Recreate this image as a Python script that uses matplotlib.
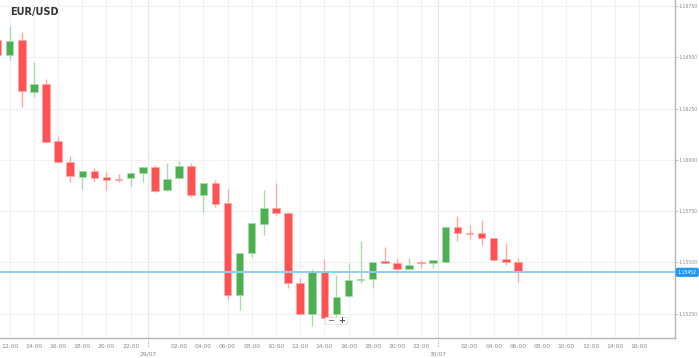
import matplotlib
matplotlib.use("Agg")
import matplotlib.pyplot as plt
import pandas as pd
import numpy as np

# ---- data ----
times = pd.date_range("2020-07-28 11:00", "2020-07-30 06:00", freq="h")
opens = [1.16582, 1.16513, 1.16582, 1.16332, 1.16372, 1.16090, 1.15991, 1.15918, 1.15945, 1.15917,
         1.15906, 1.15911, 1.15936,
         1.15965, 1.15851, 1.15914, 1.15970, 1.15827, 1.15887, 1.15790, 1.15342, 1.15544, 1.15689,
         1.15765, 1.15741, 1.15400, 1.15249, 1.15452, 1.15250, 1.15337, 1.15413, 1.15418, 1.15507,
         1.15499, 1.15470, 1.15504, 1.15499,
         1.15504, 1.15673, 1.15646, 1.15643, 1.15618, 1.15515, 1.15504]
highs = [1.16595, 1.16650, 1.16621, 1.16475, 1.16392, 1.16109, 1.16017, 1.15948, 1.15961, 1.15943,
         1.15930, 1.15940, 1.15967,
         1.15977, 1.15985, 1.15993, 1.15985, 1.15888, 1.15902, 1.15859, 1.15548, 1.15691, 1.15851,
         1.15886, 1.15746, 1.15423, 1.15468, 1.15515, 1.15439, 1.15496, 1.15607, 1.15504, 1.15577,
         1.15523, 1.15520, 1.15512, 1.15511,
         1.15676, 1.15727, 1.15681, 1.15705, 1.15618, 1.15596, 1.15520]
lows = [1.16503, 1.16485, 1.16257, 1.16306, 1.16085, 1.15988, 1.15891, 1.15856, 1.15891, 1.15851,
        1.15891, 1.15875, 1.15891,
        1.15843, 1.15849, 1.15911, 1.15819, 1.15748, 1.15770, 1.15318, 1.15270, 1.15528, 1.15633,
        1.15730, 1.15378, 1.15249, 1.15189, 1.15229, 1.15229, 1.15334, 1.15399, 1.15375, 1.15499,
        1.15447, 1.15470, 1.15471, 1.15471,
        1.15504, 1.15604, 1.15612, 1.15584, 1.15510, 1.15487, 1.15404]
closes = [1.16513, 1.16577, 1.16335, 1.16372, 1.16088, 1.15988, 1.15920, 1.15948, 1.15914, 1.15901,
          1.15902, 1.15936, 1.15965,
          1.15849, 1.15909, 1.15970, 1.15830, 1.15887, 1.15784, 1.15342, 1.15548, 1.15691, 1.15765,
          1.15739, 1.15402, 1.15249, 1.15455, 1.15229, 1.15334, 1.15415, 1.15418, 1.15504, 1.15499,
          1.15468, 1.15489, 1.15497, 1.15510,
          1.15672, 1.15642, 1.15640, 1.15617, 1.15510, 1.15501, 1.15452]
y_ticks = [1.15250, 1.15500, 1.15750, 1.16000, 1.16250, 1.16500, 1.16750]
day_labels = ["29/07", "30/07"]
title = "EUR/USD"

# ---- style ----
GREEN = "#4caf50"
RED = "#ff5252"
GRID = "#f1f1f1"
TXT = "#8a8a8a"

base = pd.Timestamp("2020-07-28 00:00")
x = np.array([(t - base) / pd.Timedelta(hours=1) for t in times])
o = np.array(opens); h = np.array(highs); l = np.array(lows); c = np.array(closes)
up = c >= o
colors = np.where(up, GREEN, RED)

fig = plt.figure(figsize=(6.99, 3.58), dpi=100)
ax = fig.add_axes([0, 20 / 358, 675 / 699, 338 / 358])

ax.set_xlim(11.2, 66.98)
ax.set_ylim(1.15132, 1.16779)

# grid
hour_ticks = [t for t in range(12, 66, 2) if t % 24 != 0]
for t in hour_ticks:
    ax.axvline(t, color=GRID, lw=0.8, zorder=0)
day_pos = [23.43, 47.43]
for d in day_pos:
    ax.axvline(d, color="#e6e6e6", lw=0.9, zorder=0)
for yv in y_ticks:
    ax.axhline(yv, color=GRID, lw=0.8, zorder=0)

# candles
wick_colors = np.where(up, "#a9dcab", "#ffa8a8")
ax.vlines(x, l, h, colors=wick_colors, lw=1.0, zorder=2)
heights = np.maximum(np.abs(c - o), 0.000015)
bottoms = np.minimum(o, c)
ax.bar(x, heights, bottom=bottoms, width=0.62, color=colors, edgecolor=wick_colors,
       linewidth=0.5, zorder=3)

# current price line
last = closes[-1]
ax.axhline(last, color="#8fcdf3", lw=1.4, zorder=4)

# axes spines
for s in ["top", "left"]:
    ax.spines[s].set_visible(False)
ax.spines["right"].set_color("#b5b5b5")
ax.spines["bottom"].set_color("#b5b5b5")
ax.spines["right"].set_linewidth(1.0)
ax.spines["bottom"].set_linewidth(1.0)

ax.yaxis.tick_right()
ax.set_yticks(y_ticks)
ax.set_yticklabels([f"{v:.5f}" for v in y_ticks], fontsize=3.3, color=TXT)
ax.tick_params(axis="y", length=2.0, width=0.6, color="#b5b5b5", pad=0.8)

ax.set_xticks(hour_ticks)
ax.set_xticklabels([f"{t % 24:02d}:00" for t in hour_ticks], fontsize=4.3, color=TXT)
ax.tick_params(axis="x", length=0, pad=4)
for lbl in ax.get_xticklabels():
    if lbl.get_position()[0] > 65:
        lbl.set_visible(False)

# day separators below axis
for d, lab in zip(day_pos, day_labels):
    ax.plot([d, d], [-0.005, -0.028], transform=ax.get_xaxis_transform(), color="#9a9a9a",
            lw=0.6, ls=(0, (1.5, 1.5)), clip_on=False)
    ax.text(d, -0.04, lab, transform=ax.get_xaxis_transform(), fontsize=4.3, color=TXT,
            ha="center", va="top")

# price label
ax.text(1.004, last, f"{last:.5f}", transform=ax.get_yaxis_transform(), fontsize=3.3,
        color="white", ha="left", va="center",
        bbox=dict(boxstyle="round,pad=0.3,rounding_size=0.3", fc="#2196f3", ec="#2196f3"))

# title
fig.text(10 / 699, 1 - 12 / 358, title, fontsize=7, fontweight="bold", color="#333333",
         ha="left", va="center")

# zoom buttons
fig.patches.append(plt.Rectangle((325 / 699, 1 - 323.5 / 358), 22 / 699, 6.5 / 358,
                                 transform=fig.transFigure, fc="white", ec="#dddddd", lw=0.5,
                                 zorder=10))
fig.text(331 / 699, 1 - 320.3 / 358, "−", fontsize=6, color="#555555", ha="center", va="center",
         zorder=11)
fig.text(342 / 699, 1 - 320.3 / 358, "+", fontsize=6, color="#555555", ha="center", va="center",
         zorder=11, fontweight="bold")

fig.savefig("out.png", dpi=100)
